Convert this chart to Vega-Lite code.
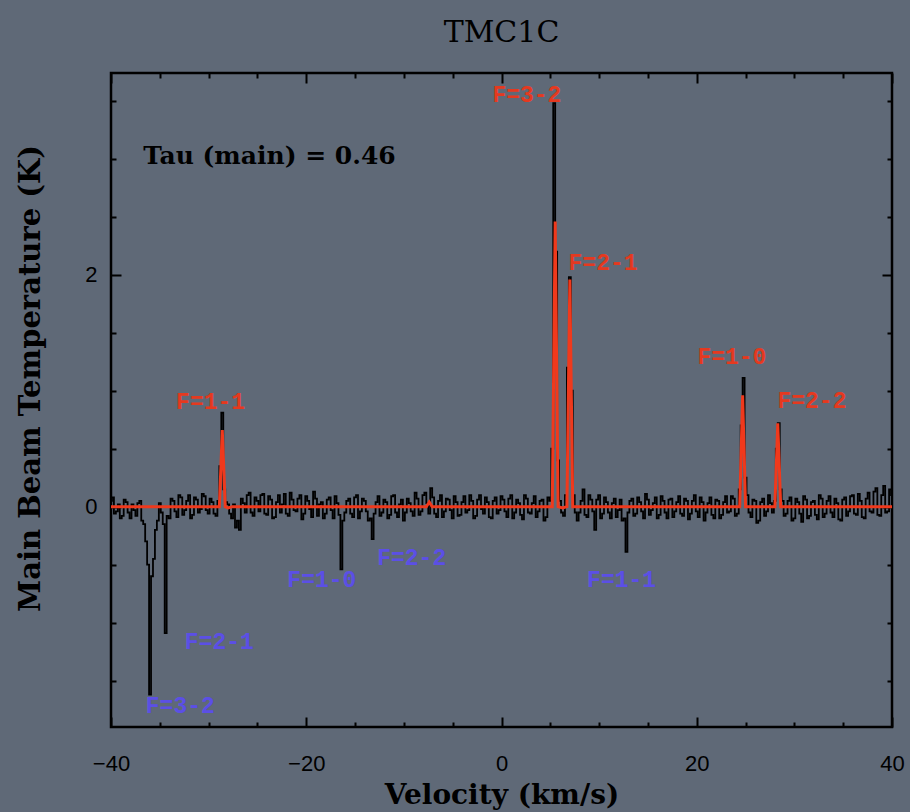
{
  "$schema": "https://vega.github.io/schema/vega-lite/v6.json",
  "autosize": "none",
  "padding": {"left": 111, "top": 73, "right": 18, "bottom": 85},
  "width": 781,
  "height": 654,
  "background": "#5f6977",
  "config": {
    "view": {"stroke": "black", "strokeWidth": 2.5},
    "axis": {"grid": false, "domain": false, "tickColor": "black", "labelColor": "black", "titleColor": "black"}
  },
  "title": {"text": "TMC1C", "font": "DejaVu Serif", "fontSize": 30, "fontWeight": "normal", "color": "black", "offset": 24},
  "datasets": {
    "spec": [
      {"v":-40.0,"t":0.05},{"v":-39.6,"t":-0.06},{"v":-39.2,"t":0.02},{"v":-38.8,"t":-0.08},{"v":-38.4,"t":0.04},
      {"v":-38.0,"t":-0.1},{"v":-37.6,"t":-0.03},{"v":-37.2,"t":0.03},{"v":-36.8,"t":-0.12},{"v":-36.4,"t":-0.3},
      {"v":-36.0,"t":-1.62},{"v":-35.6,"t":-0.45},{"v":-35.2,"t":-0.12},{"v":-34.8,"t":-0.05},{"v":-34.4,"t":-1.09},
      {"v":-34.0,"t":-0.1},{"v":-33.6,"t":0.05},{"v":-33.2,"t":-0.09},{"v":-32.8,"t":0.08},{"v":-32.4,"t":-0.03},
      {"v":-32.0,"t":0.1},{"v":-31.6,"t":-0.07},{"v":-31.2,"t":0.06},{"v":-30.8,"t":-0.02},{"v":-30.4,"t":0.09},
      {"v":-30.0,"t":-0.06},{"v":-29.6,"t":0.04},{"v":-29.2,"t":-0.08},{"v":-28.8,"t":0.35},{"v":-28.4,"t":0.15},
      {"v":-28.0,"t":0.02},{"v":-27.6,"t":-0.1},{"v":-27.2,"t":-0.18},{"v":-26.8,"t":-0.2},{"v":-26.4,"t":0.03},
      {"v":-26.0,"t":0.1},{"v":-25.6,"t":-0.05},{"v":-25.2,"t":0.08},{"v":-24.8,"t":-0.04},{"v":-24.4,"t":0.11},
      {"v":-24.0,"t":-0.07},{"v":-23.6,"t":0.06},{"v":-23.2,"t":-0.09},{"v":-22.8,"t":0.1},{"v":-22.4,"t":0.02},
      {"v":-22.0,"t":-0.06},{"v":-21.6,"t":0.12},{"v":-21.2,"t":-0.03},{"v":-20.8,"t":0.07},{"v":-20.4,"t":-0.11},
      {"v":-20.0,"t":0.09},{"v":-19.6,"t":-0.02},{"v":-19.2,"t":0.13},{"v":-18.8,"t":-0.08},{"v":-18.4,"t":0.04},
      {"v":-18.0,"t":-0.06},{"v":-17.6,"t":0.08},{"v":-17.2,"t":-0.1},{"v":-16.8,"t":0.03},{"v":-16.4,"t":-0.54},
      {"v":-16.0,"t":-0.05},{"v":-15.6,"t":0.07},{"v":-15.2,"t":-0.09},{"v":-14.8,"t":0.1},{"v":-14.4,"t":-0.04},
      {"v":-14.0,"t":0.05},{"v":-13.6,"t":-0.12},{"v":-13.2,"t":-0.28},{"v":-12.8,"t":0.04},{"v":-12.4,"t":-0.08},
      {"v":-12.0,"t":0.06},{"v":-11.6,"t":-0.1},{"v":-11.2,"t":0.09},{"v":-10.8,"t":-0.05},{"v":-10.4,"t":0.02},
      {"v":-10.0,"t":-0.12},{"v":-9.6,"t":0.07},{"v":-9.2,"t":-0.04},{"v":-8.8,"t":0.12},{"v":-8.4,"t":-0.07},
      {"v":-8.0,"t":0.1},{"v":-7.6,"t":0.03},{"v":-7.2,"t":0.16},{"v":-6.8,"t":-0.06},{"v":-6.4,"t":0.05},
      {"v":-6.0,"t":-0.09},{"v":-5.6,"t":0.07},{"v":-5.2,"t":-0.03},{"v":-4.8,"t":0.09},{"v":-4.4,"t":-0.08},
      {"v":-4.0,"t":0.04},{"v":-3.6,"t":-0.05},{"v":-3.2,"t":0.1},{"v":-2.8,"t":-0.1},{"v":-2.4,"t":0.06},
      {"v":-2.0,"t":-0.02},{"v":-1.6,"t":0.08},{"v":-1.2,"t":-0.09},{"v":-0.8,"t":0.05},{"v":-0.4,"t":-0.06},
      {"v":0.0,"t":0.09},{"v":0.4,"t":-0.04},{"v":0.8,"t":0.07},{"v":1.2,"t":-0.1},{"v":1.6,"t":0.06},
      {"v":2.0,"t":-0.07},{"v":2.4,"t":0.1},{"v":2.8,"t":-0.05},{"v":3.2,"t":0.03},{"v":3.6,"t":-0.09},
      {"v":4.0,"t":0.05},{"v":4.4,"t":-0.12},{"v":4.8,"t":0.08},{"v":5.2,"t":0.5},{"v":5.6,"t":2.2},
      {"v":6.0,"t":0.05},{"v":6.4,"t":-0.08},{"v":6.8,"t":1.2},{"v":7.2,"t":1.0},{"v":7.6,"t":-0.05},
      {"v":8.0,"t":-0.05},{"v":8.4,"t":0.15},{"v":8.8,"t":-0.09},{"v":9.2,"t":0.06},{"v":9.6,"t":-0.2},
      {"v":10.0,"t":0.1},{"v":10.4,"t":-0.06},{"v":10.8,"t":0.04},{"v":11.2,"t":-0.1},{"v":11.6,"t":0.07},
      {"v":12.0,"t":-0.03},{"v":12.4,"t":-0.12},{"v":12.8,"t":-0.39},{"v":13.2,"t":0.05},{"v":13.6,"t":-0.08},
      {"v":14.0,"t":0.08},{"v":14.4,"t":-0.04},{"v":14.8,"t":0.11},{"v":15.2,"t":-0.07},{"v":15.6,"t":0.03},
      {"v":16.0,"t":-0.1},{"v":16.4,"t":0.09},{"v":16.8,"t":-0.05},{"v":17.2,"t":0.06},{"v":17.6,"t":-0.09},
      {"v":18.0,"t":0.04},{"v":18.4,"t":-0.06},{"v":18.8,"t":0.07},{"v":19.2,"t":-0.11},{"v":19.6,"t":0.05},
      {"v":20.0,"t":-0.04},{"v":20.4,"t":0.08},{"v":20.8,"t":-0.12},{"v":21.2,"t":0.03},{"v":21.6,"t":-0.07},
      {"v":22.0,"t":0.06},{"v":22.4,"t":-0.1},{"v":22.8,"t":0.04},{"v":23.2,"t":-0.05},{"v":23.6,"t":0.09},
      {"v":24.0,"t":-0.08},{"v":24.4,"t":0.15},{"v":24.8,"t":1.11},{"v":25.2,"t":0.1},{"v":25.6,"t":-0.09},
      {"v":26.0,"t":0.05},{"v":26.4,"t":-0.12},{"v":26.8,"t":0.07},{"v":27.2,"t":-0.04},{"v":27.6,"t":0.03},
      {"v":28.0,"t":0.05},{"v":28.4,"t":0.72},{"v":28.8,"t":0.05},{"v":29.2,"t":-0.06},{"v":29.6,"t":0.08},
      {"v":30.0,"t":-0.1},{"v":30.4,"t":0.04},{"v":30.8,"t":-0.13},{"v":31.2,"t":0.06},{"v":31.6,"t":-0.08},
      {"v":32.0,"t":0.05},{"v":32.4,"t":-0.11},{"v":32.8,"t":0.07},{"v":33.2,"t":-0.06},{"v":33.6,"t":0.09},
      {"v":34.0,"t":-0.09},{"v":34.4,"t":0.03},{"v":34.8,"t":-0.12},{"v":35.2,"t":0.08},{"v":35.6,"t":-0.04},
      {"v":36.0,"t":0.1},{"v":36.4,"t":-0.07},{"v":36.8,"t":0.05},{"v":37.2,"t":-0.1},{"v":37.6,"t":0.12},
      {"v":38.0,"t":-0.05},{"v":38.4,"t":0.16},{"v":38.8,"t":-0.08},{"v":39.2,"t":0.18},{"v":39.6,"t":-0.04},
      {"v":40.0,"t":0.1},
      {"v":-39.8,"t":0.08},{"v":-39.4,"t":-0.04},{"v":-39.0,"t":-0.1},{"v":-38.6,"t":0.06},{"v":-38.2,"t":-0.05},
      {"v":-37.8,"t":0.02},{"v":-37.4,"t":-0.08},{"v":-37.0,"t":0.05},{"v":-36.6,"t":-0.15},{"v":-36.2,"t":-0.5},
      {"v":-35.8,"t":-0.6},{"v":-35.4,"t":-0.2},{"v":-35.0,"t":0.03},{"v":-34.6,"t":-0.15},{"v":-34.2,"t":-0.08},
      {"v":-33.8,"t":0.07},{"v":-33.4,"t":-0.04},{"v":-33.0,"t":0.1},{"v":-32.6,"t":-0.07},{"v":-32.2,"t":0.05},
      {"v":-31.8,"t":-0.1},{"v":-31.4,"t":0.08},{"v":-31.0,"t":-0.05},{"v":-30.6,"t":0.11},{"v":-30.2,"t":-0.03},
      {"v":-29.8,"t":0.07},{"v":-29.4,"t":-0.06},{"v":-29.0,"t":0.05},{"v":-28.6,"t":0.81},{"v":-28.2,"t":0.04},
      {"v":-27.8,"t":-0.06},{"v":-27.4,"t":0.02},{"v":-27.0,"t":-0.12},{"v":-26.6,"t":0.07},{"v":-26.2,"t":-0.05},
      {"v":-25.8,"t":0.12},{"v":-25.4,"t":-0.08},{"v":-25.0,"t":0.05},{"v":-24.6,"t":0.1},{"v":-24.2,"t":-0.06},
      {"v":-23.8,"t":0.09},{"v":-23.4,"t":-0.1},{"v":-23.0,"t":0.04},{"v":-22.6,"t":-0.05},{"v":-22.2,"t":0.11},
      {"v":-21.8,"t":-0.08},{"v":-21.4,"t":0.06},{"v":-21.0,"t":-0.04},{"v":-20.6,"t":0.1},{"v":-20.2,"t":-0.06},
      {"v":-19.8,"t":0.05},{"v":-19.4,"t":-0.09},{"v":-19.0,"t":0.07},{"v":-18.6,"t":0.02},{"v":-18.2,"t":-0.1},
      {"v":-17.8,"t":0.06},{"v":-17.4,"t":-0.03},{"v":-17.0,"t":0.09},{"v":-16.6,"t":-0.07},{"v":-16.2,"t":-0.12},
      {"v":-15.8,"t":0.05},{"v":-15.4,"t":-0.06},{"v":-15.0,"t":0.08},{"v":-14.6,"t":-0.1},{"v":-14.2,"t":0.07},
      {"v":-13.8,"t":-0.04},{"v":-13.4,"t":-0.1},{"v":-13.0,"t":-0.06},{"v":-12.6,"t":0.09},{"v":-12.2,"t":-0.05},
      {"v":-11.8,"t":0.04},{"v":-11.4,"t":-0.07},{"v":-11.0,"t":0.1},{"v":-10.6,"t":-0.09},{"v":-10.2,"t":0.06},
      {"v":-9.8,"t":-0.05},{"v":-9.4,"t":0.03},{"v":-9.0,"t":-0.08},{"v":-8.6,"t":0.07},{"v":-8.2,"t":-0.04},
      {"v":-7.8,"t":0.12},{"v":-7.4,"t":-0.06},{"v":-7.0,"t":0.08},{"v":-6.6,"t":-0.09},{"v":-6.2,"t":0.1},
      {"v":-5.8,"t":-0.04},{"v":-5.4,"t":0.06},{"v":-5.0,"t":-0.1},{"v":-4.6,"t":0.04},{"v":-4.2,"t":-0.07},
      {"v":-3.8,"t":0.09},{"v":-3.4,"t":-0.03},{"v":-3.0,"t":0.05},{"v":-2.6,"t":-0.08},{"v":-2.2,"t":0.1},
      {"v":-1.8,"t":-0.06},{"v":-1.4,"t":0.04},{"v":-1.0,"t":-0.1},{"v":-0.6,"t":0.08},{"v":-0.2,"t":-0.03},
      {"v":0.2,"t":0.06},{"v":0.6,"t":-0.09},{"v":1.0,"t":0.1},{"v":1.4,"t":-0.05},{"v":1.8,"t":0.03},
      {"v":2.2,"t":-0.11},{"v":2.6,"t":0.07},{"v":3.0,"t":-0.06},{"v":3.4,"t":0.09},{"v":3.8,"t":-0.04},
      {"v":4.2,"t":0.06},{"v":4.6,"t":-0.09},{"v":5.0,"t":0.05},{"v":5.4,"t":3.48},{"v":5.8,"t":0.4},
      {"v":6.2,"t":-0.05},{"v":6.6,"t":0.1},{"v":7.0,"t":1.98},{"v":7.4,"t":0.1},{"v":7.8,"t":-0.12},
      {"v":8.2,"t":0.05},{"v":8.6,"t":-0.07},{"v":9.0,"t":0.1},{"v":9.4,"t":-0.04},{"v":9.8,"t":0.06},
      {"v":10.2,"t":-0.1},{"v":10.6,"t":0.08},{"v":11.0,"t":-0.05},{"v":11.4,"t":0.03},{"v":11.8,"t":-0.09},
      {"v":12.2,"t":0.06},{"v":12.6,"t":-0.1},{"v":13.0,"t":-0.05},{"v":13.4,"t":0.07},{"v":13.8,"t":-0.06},
      {"v":14.2,"t":0.04},{"v":14.6,"t":-0.1},{"v":15.0,"t":0.06},{"v":15.4,"t":-0.03},{"v":15.8,"t":0.08},
      {"v":16.2,"t":-0.07},{"v":16.6,"t":0.05},{"v":17.0,"t":-0.1},{"v":17.4,"t":0.07},{"v":17.8,"t":-0.04},
      {"v":18.2,"t":0.09},{"v":18.6,"t":-0.08},{"v":19.0,"t":0.05},{"v":19.4,"t":-0.06},{"v":19.8,"t":0.1},
      {"v":20.2,"t":-0.09},{"v":20.6,"t":0.04},{"v":21.0,"t":-0.05},{"v":21.4,"t":0.08},{"v":21.8,"t":-0.1},
      {"v":22.2,"t":0.05},{"v":22.6,"t":-0.07},{"v":23.0,"t":0.09},{"v":23.4,"t":-0.04},{"v":23.8,"t":0.07},
      {"v":24.2,"t":-0.06},{"v":24.6,"t":0.7},{"v":25.0,"t":0.25},{"v":25.4,"t":-0.05},{"v":25.8,"t":0.06},
      {"v":26.2,"t":-0.14},{"v":26.6,"t":0.04},{"v":27.0,"t":-0.08},{"v":27.4,"t":0.1},{"v":27.8,"t":-0.05},
      {"v":28.2,"t":0.5},{"v":28.6,"t":0.15},{"v":29.0,"t":-0.08},{"v":29.4,"t":0.05},{"v":29.8,"t":-0.12},
      {"v":30.2,"t":0.07},{"v":30.6,"t":-0.06},{"v":31.0,"t":0.09},{"v":31.4,"t":-0.1},{"v":31.8,"t":0.04},
      {"v":32.2,"t":-0.07},{"v":32.6,"t":0.1},{"v":33.0,"t":-0.09},{"v":33.4,"t":0.05},{"v":33.8,"t":-0.05},
      {"v":34.2,"t":0.07},{"v":34.6,"t":-0.11},{"v":35.0,"t":0.06},{"v":35.4,"t":-0.08},{"v":35.8,"t":0.09},
      {"v":36.2,"t":-0.06},{"v":36.6,"t":0.11},{"v":37.0,"t":-0.09},{"v":37.4,"t":0.07},{"v":37.8,"t":-0.04},
      {"v":38.2,"t":0.13},{"v":38.6,"t":-0.07},{"v":39.0,"t":0.1},{"v":39.4,"t":-0.05},{"v":39.8,"t":0.15}
    ],
    "fit": [
      {"v":-40,"t":0},{"v":-28.9,"t":0},{"v":-28.75,"t":0.33},{"v":-28.6,"t":0.66},{"v":-28.45,"t":0.33},
      {"v":-28.3,"t":0},{"v":-28.0,"t":-0.01},{"v":-27.6,"t":0},{"v":-7.7,"t":0},{"v":-7.4,"t":0.04},{"v":-7.1,"t":0},
      {"v":5.2,"t":0},{"v":5.35,"t":1.23},{"v":5.5,"t":2.46},{"v":5.65,"t":1.23},{"v":5.8,"t":0},
      {"v":6.25,"t":-0.01},{"v":6.7,"t":0},{"v":6.85,"t":0.98},{"v":7.0,"t":1.96},{"v":7.15,"t":0.98},{"v":7.3,"t":0},
      {"v":24.4,"t":0},{"v":24.55,"t":0.48},{"v":24.7,"t":0.96},{"v":24.85,"t":0.48},{"v":25.0,"t":0},
      {"v":28.0,"t":0},{"v":28.15,"t":0.36},{"v":28.3,"t":0.72},{"v":28.45,"t":0.36},{"v":28.6,"t":0},{"v":40,"t":0}
    ],
    "labels": [
      {"v":2.6,"t":3.55,"label":"F=3-2","col":"#e5391f"},
      {"v":10.4,"t":2.1,"label":"F=2-1","col":"#e5391f"},
      {"v":-29.8,"t":0.905,"label":"F=1-1","col":"#e5391f"},
      {"v":23.6,"t":1.29,"label":"F=1-0","col":"#e5391f"},
      {"v":31.8,"t":0.914,"label":"F=2-2","col":"#e5391f"},
      {"v":-18.4,"t":-0.63,"label":"F=1-0","col":"#5b4fe6"},
      {"v":-9.2,"t":-0.44,"label":"F=2-2","col":"#5b4fe6"},
      {"v":-32.9,"t":-1.72,"label":"F=3-2","col":"#5b4fe6"},
      {"v":-28.9,"t":-1.17,"label":"F=2-1","col":"#5b4fe6"},
      {"v":12.3,"t":-0.63,"label":"F=1-1","col":"#5b4fe6"}
    ],
    "notes": [
      {"v":-36.7,"t":3.02,"label":"Tau (main) = 0.46"}
    ]
  },
  "resolve": {"axis": {"x": "independent", "y": "independent"}},
  "layer": [
    {
      "data": {"name": "spec"},
      "mark": {"type": "line", "color": "black", "strokeWidth": 1.8, "interpolate": "step"},
      "encoding": {
        "x": {"field": "v", "type": "quantitative",
              "scale": {"domain": [-40, 40], "nice": false, "zero": false},
              "axis": {"orient": "bottom", "values": [-40, -20, 0, 20, 40], "tickSize": -10, "tickWidth": 2,
                       "labelFont": "Liberation Sans", "labelFontSize": 22, "labelPadding": 36, "labelFlush": false,
                       "title": "Velocity (km/s)", "titleFont": "DejaVu Serif", "titleFontSize": 28, "titleFontWeight": "bold",
                       "titleY": 68, "titleBaseline": "middle"}},
        "y": {"field": "t", "type": "quantitative",
              "scale": {"domain": [-1.9, 3.74], "nice": false, "zero": false},
              "axis": {"orient": "left", "values": [0, 2], "tickSize": -10, "tickWidth": 2,
                       "labelFont": "Liberation Sans", "labelFontSize": 22, "labelPadding": 24,
                       "title": "Main Beam Temperature (K)", "titleFont": "DejaVu Serif", "titleFontSize": 29, "titleFontWeight": "bold",
                       "titleX": -81, "titleY": 305, "titleBaseline": "middle", "titleAlign": "center", "titleAngle": -90}}
      }
    },
    {
      "data": {"name": "fit"},
      "mark": {"type": "line", "color": "#f0391c", "strokeWidth": 3},
      "encoding": {
        "x": {"field": "v", "type": "quantitative",
              "axis": {"orient": "top", "values": [-40, -20, 0, 20, 40], "tickSize": -10, "tickWidth": 2, "labels": false, "title": null}},
        "y": {"field": "t", "type": "quantitative",
              "axis": {"orient": "right", "values": [0, 2], "tickSize": -10, "tickWidth": 2, "labels": false, "title": null}}
      }
    },
    {
      "data": {"name": "labels"},
      "mark": {"type": "text", "font": "Liberation Mono", "fontSize": 23, "fontWeight": "bold", "align": "center", "baseline": "middle"},
      "encoding": {
        "x": {"field": "v", "type": "quantitative",
              "axis": {"orient": "bottom", "values": [-35, -30, -25, -15, -10, -5, 5, 10, 15, 25, 30, 35], "tickSize": -5, "tickWidth": 2, "labels": false, "title": null}},
        "y": {"field": "t", "type": "quantitative",
              "axis": {"orient": "left", "values": [-1.5, -1, -0.5, 0.5, 1, 1.5, 2.5, 3, 3.5], "tickSize": -5, "tickWidth": 2, "labels": false, "title": null}},
        "text": {"field": "label"},
        "color": {"field": "col", "type": "nominal", "scale": null}
      }
    },
    {
      "data": {"name": "notes"},
      "mark": {"type": "text", "font": "DejaVu Serif", "fontSize": 25, "fontWeight": "bold", "align": "left", "baseline": "middle", "color": "black"},
      "encoding": {
        "x": {"field": "v", "type": "quantitative",
              "axis": {"orient": "top", "values": [-35, -30, -25, -15, -10, -5, 5, 10, 15, 25, 30, 35], "tickSize": -5, "tickWidth": 2, "labels": false, "title": null}},
        "y": {"field": "t", "type": "quantitative",
              "axis": {"orient": "right", "values": [-1.5, -1, -0.5, 0.5, 1, 1.5, 2.5, 3, 3.5], "tickSize": -5, "tickWidth": 2, "labels": false, "title": null}},
        "text": {"field": "label"}
      }
    }
  ]
}
